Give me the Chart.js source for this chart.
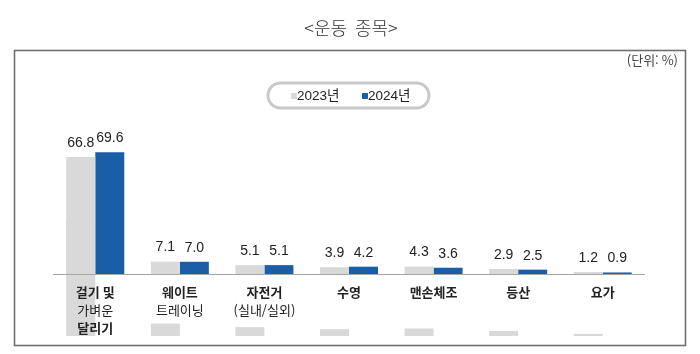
<!DOCTYPE html>
<html lang="ko">
<head>
<meta charset="utf-8">
<title>운동 종목</title>
<script src="https://cdn.jsdelivr.net/npm/chart.js@4/dist/chart.umd.min.js"></script>
<style>
  html, body { margin: 0; padding: 0; background: #fff; }
  canvas { display: block; }
</style>
</head>
<body>
<canvas id="sportChart" width="700" height="354"></canvas>
<script>
/* ---------- DATA ---------- */
const categories = [
    ["걸기 및", "가벼운", "달리기"],
    ["웨이트", "트레이닝"],
    ["자전거", "(실내/실외)"],
    ["수영"],
    ["맨손체조"],
    ["등산"],
    ["요가"],
];
const seriesNames = ["2023년", "2024년"];
const values2023 = [66.8, 7.1, 5.1, 3.9, 4.3, 2.9, 1.2];
const values2024 = [69.6, 7.0, 5.1, 4.2, 3.6, 2.5, 0.9];
const chartTitle = "<운동  종목>";
const unitLabel = "(단위: %)";

/* 그림 아래쪽에 비치는 2023년 막대 잔상 기준값 */
const REFLECT_BASE = -35.4;

const GRAY = "#d9d9d9";
const BLUE = "#1b5ea8";

/* ---------- PLUGINS ---------- */
const framePlugin = {
    id: "frame",
    beforeDraw(chart) {
        const c = chart.ctx;
        c.save();
        c.fillStyle = "#fff";
        c.fillRect(0, 0, chart.width, chart.height);

        // 제목
        c.fillStyle = "#333";
        c.font = "300 18px 'Noto Sans CJK KR'";
        c.textAlign = "center";
        c.textBaseline = "middle";
        c.fillText(chartTitle, 351, 28);

        // 테두리
        c.strokeStyle = "#6e6e6e";
        c.lineWidth = 1.6;
        c.strokeRect(14.5, 50.5, 671, 295);

        // 단위
        c.fillStyle = "#444";
        c.font = "13px 'Noto Sans CJK KR'";
        c.textAlign = "right";
        c.fillText(unitLabel, 678, 60);

        // 범례
        c.strokeStyle = "#c9c9c9";
        c.lineWidth = 3;
        c.beginPath();
        c.roundRect(268, 83, 161, 25, 12.5);
        c.stroke();

        const items = [
            { x: 291, ds: chart.data.datasets[0] },
            { x: 362, ds: chart.data.datasets[1] },
        ];
        c.font = "13.5px 'Liberation Sans', 'Noto Sans CJK KR'";
        c.textAlign = "left";
        items.forEach(({ x, ds }) => {
            c.fillStyle = ds.backgroundColor;
            c.fillRect(x, 93, 6, 6);
            c.fillStyle = "#222";
            c.fillText(ds.label, x + 6, 96);
        });
        c.restore();
    },
};

const labelPlugin = {
    id: "labels",
    afterDatasetsDraw(chart) {
        const c = chart.ctx;
        const { left, right } = chart.chartArea;
        const y0 = chart.scales.y.getPixelForValue(0);
        c.save();

        // 기준선
        c.strokeStyle = "#a6a6a6";
        c.lineWidth = 1;
        c.beginPath();
        c.moveTo(left, Math.round(y0) + 0.5);
        c.lineTo(right, Math.round(y0) + 0.5);
        c.stroke();

        // 값 라벨
        c.fillStyle = "#222";
        c.font = "14px 'Liberation Sans'";
        c.textAlign = "center";
        c.textBaseline = "middle";
        [0, 1].forEach((di) => {
            const meta = chart.getDatasetMeta(di);
            meta.data.forEach((bar, i) => {
                const v = chart.data.datasets[di].data[i];
                c.fillText(v.toFixed(1), bar.x, bar.y - 14);
            });
        });

        // 항목 라벨
        const xs = chart.scales.x;
        const weights = ["bold", "normal", "bold"];
        categories.forEach((lines, i) => {
            const x = xs.getPixelForValue(i);
            lines.forEach((t, k) => {
                c.font = weights[k] + " 13px 'Noto Sans CJK KR'";
                c.fillText(t, x, y0 + 18 + k * 18);
            });
        });
        c.restore();
    },
};

/* ---------- CHART ---------- */
const ctx = document.getElementById("sportChart").getContext("2d");

new Chart(ctx, {
    type: "bar",
    data: {
        labels: categories.map((l) => l.join(" ")),
        datasets: [
            {
                label: seriesNames[0],
                data: values2023,
                backgroundColor: GRAY,
                stack: "s2023",
            },
            {
                label: seriesNames[1],
                data: values2024,
                backgroundColor: BLUE,
                stack: "s2024",
            },
            {
                label: "reflect",
                data: values2023.map((v) => [REFLECT_BASE, REFLECT_BASE + v]),
                backgroundColor: GRAY,
                stack: "s2023",
            },
        ],
    },
    options: {
        responsive: false,
        animation: false,
        events: [],
        layout: {
            padding: { left: 53, right: 55, top: 134, bottom: 18 },
        },
        datasets: {
            bar: {
                categoryPercentage: 0.686,
                barPercentage: 1,
                borderWidth: 0,
            },
        },
        plugins: {
            legend: { display: false },
            title: { display: false },
            tooltip: { enabled: false },
        },
        scales: {
            x: { stacked: true, display: false },
            y: {
                stacked: false,
                display: false,
                min: REFLECT_BASE,
                max: 80,
            },
        },
    },
    plugins: [framePlugin, labelPlugin],
});
</script>
</body>
</html>
